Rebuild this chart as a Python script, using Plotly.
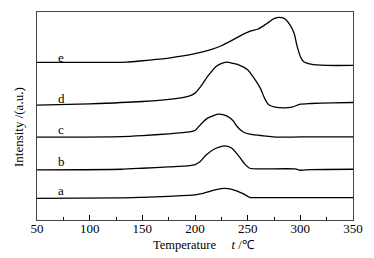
import plotly.graph_objects as go

temp_a = [50, 130, 150, 175, 200, 210, 220, 228, 235, 245, 252, 260, 300, 350]
int_a = [65, 66, 68, 71, 75, 82, 91, 95, 92, 80, 68, 67, 67, 67]

temp_b = [50, 130, 150, 175, 195, 200, 205, 210, 218, 228, 235, 242, 248, 252, 260, 295, 300, 310, 350]
int_b = [150, 152, 155, 159, 163, 166, 175, 193, 212, 222, 215, 190, 165, 155, 153, 153, 149, 151, 152]

temp_c = [50, 130, 150, 175, 195, 200, 205, 212, 222, 230, 236, 240, 245, 252, 265, 280, 300, 350]
int_c = [248, 250, 253, 258, 264, 268, 285, 305, 317, 312, 298, 280, 265, 257, 252, 248, 249, 249]

temp_d = [50, 100, 150, 180, 195, 200, 205, 212, 220, 226, 231, 236, 242, 250, 256, 262, 266, 270, 276, 285, 292, 300, 310, 330, 350]
int_d = [344, 348, 355, 363, 372, 380, 398, 430, 460, 470, 473, 469, 464, 450, 425, 395, 365, 345, 338, 336, 338, 347, 349, 351, 352]

temp_e = [50, 135, 150, 175, 200, 215, 225, 235, 245, 252, 260, 268, 275, 280, 285, 290, 294, 297, 300, 303, 310, 325, 350]
int_e = [472, 473, 477, 485, 498, 510, 522, 538, 555, 565, 572, 588, 603, 607, 603, 585, 560, 520, 490, 475, 467, 463, 463]

labels = ["a", "b", "c", "d", "e"]
label_x = [73, 73, 73, 73, 73]
label_y = [87, 175, 270, 365, 488]

x_title = "Temperature     <i>t</i> /℃"
y_title = "Intensity /(a.u.)"

fig = go.Figure()
for tx, iy in [(temp_a, int_a), (temp_b, int_b), (temp_c, int_c), (temp_d, int_d), (temp_e, int_e)]:
    fig.add_trace(go.Scatter(x=tx, y=iy, mode="lines", line=dict(color="black", width=1.3, shape="spline", smoothing=0.6), showlegend=False))

for lab, lx, ly in zip(labels, label_x, label_y):
    fig.add_annotation(x=lx, y=ly, text=lab, showarrow=False, xanchor="center", yanchor="middle",
                       font=dict(family="Liberation Serif", size=13, color="black"))

fig.add_annotation(xref="paper", yref="paper", x=0.53, y=-0.118, text=x_title, showarrow=False,
                   xanchor="center", yanchor="middle",
                   font=dict(family="Liberation Serif", size=12.5, color="black"))
fig.add_annotation(xref="paper", yref="paper", x=-0.06, y=0.447, text=y_title, showarrow=False, textangle=-90,
                   xanchor="center", yanchor="middle",
                   font=dict(family="Liberation Serif", size=13, color="black"))

fig.update_layout(
    width=374, height=258,
    margin=dict(l=37, r=21, t=12, b=38),
    paper_bgcolor="white", plot_bgcolor="white",
    font=dict(family="Liberation Serif", size=13, color="black"),
    xaxis=dict(range=[50, 350], tickvals=[50, 100, 150, 200, 250, 300, 350], automargin=False,
               ticks="inside", ticklen=5, tickcolor="black", tickwidth=1, ticklabelstandoff=-4,
               minor=dict(tickvals=[75, 125, 175, 225, 275, 325], ticks="inside", ticklen=3, tickcolor="black"),
               showline=True, linecolor="#444", linewidth=1, mirror=True, showgrid=False, zeroline=False),
    yaxis=dict(range=[0, 623], showticklabels=False, ticks="", showline=True, linecolor="#444", linewidth=1,
               mirror=True, showgrid=False, zeroline=False, automargin=False),
)
fig.write_html("out.html", config={"displayModeBar": False},
               post_script="document.body.style.margin='0';document.body.style.padding='0';")
